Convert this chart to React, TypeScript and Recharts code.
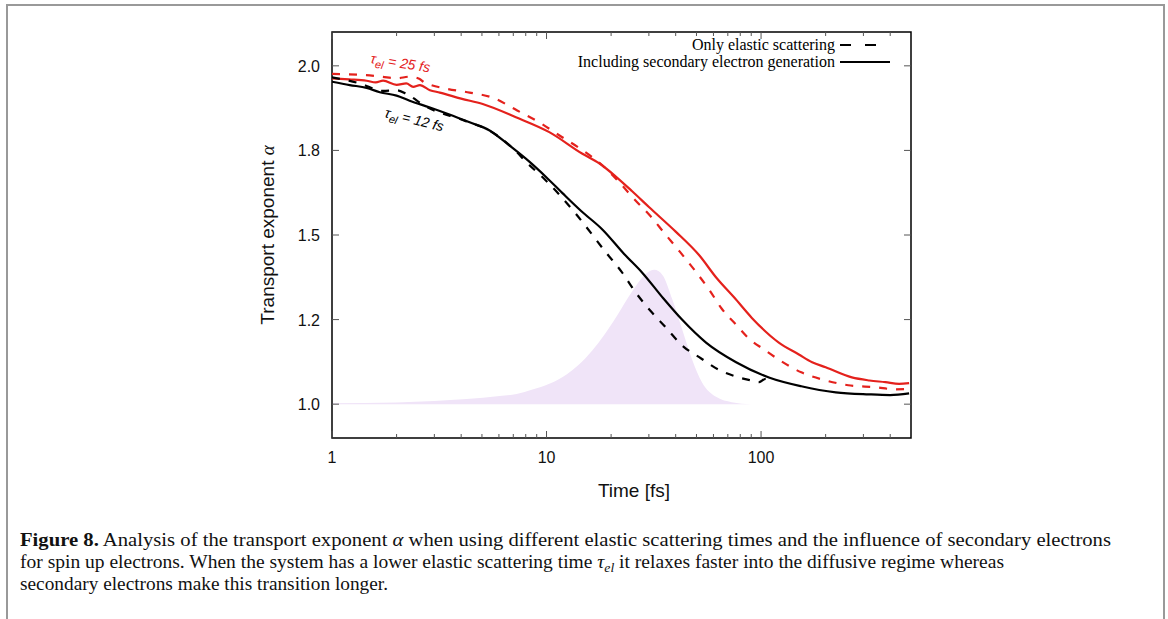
import React from "react";
import { ComposedChart, Line, Area, XAxis, YAxis, ReferenceArea } from "recharts";

// time axis ticks (log scale)
const xMajor = [1, 10, 100];
const xMinor = [2, 3, 4, 5, 6, 7, 8, 9, 20, 30, 40, 50, 60, 70, 80, 90, 200, 300, 400];
const xTicks = [...xMajor, ...xMinor].sort((a, b) => a - b);

// gnuplot prints 1.25 / 1.75 with one decimal
const yTicks = [1.0, 1.25, 1.5, 1.75, 2.0];
const yTickLabels = ["1.0", "1.2", "1.5", "1.8", "2.0"];

// [time fs, alpha]
const inclSecondary12: [number, number][] = [
  [1, 1.953], [1.21, 1.943], [1.45, 1.935], [1.67, 1.922], [2.0, 1.912], [2.3, 1.897],
  [2.86, 1.877], [3.5, 1.857], [4.38, 1.833], [5.43, 1.809], [6.7, 1.765], [8.34, 1.716],
  [10, 1.67], [11.9, 1.623], [14.5, 1.571], [18.3, 1.515], [23, 1.444], [28, 1.388],
  [35, 1.313], [42.8, 1.25], [55.4, 1.182], [76.5, 1.124], [108.8, 1.079], [154, 1.053],
  [223, 1.035], [317, 1.029], [400, 1.027], [490, 1.032],
];

const elastic12: [number, number][] = [
  [1, 1.966], [1.35, 1.948], [1.73, 1.926], [2.0, 1.928], [2.25, 1.915], [2.7, 1.882],
  [4.15, 1.838], [5.4, 1.809], [6.9, 1.759], [8.15, 1.712], [9.9, 1.662], [13.6, 1.565],
  [19, 1.447], [22.4, 1.391], [25.9, 1.332], [30.5, 1.276], [36.3, 1.224], [42.8, 1.174],
  [52.6, 1.135], [63, 1.103], [76, 1.082], [90, 1.07], [98, 1.065], [105, 1.075], [115, 1.07],
];

const inclSecondary25: [number, number][] = [
  [1, 1.963], [1.2, 1.96], [1.45, 1.956], [1.6, 1.951], [1.73, 1.956], [2.0, 1.944],
  [2.22, 1.948], [2.39, 1.938], [2.57, 1.943], [2.86, 1.928], [3.18, 1.921], [4, 1.903],
  [5.04, 1.887], [7.2, 1.848], [10.3, 1.804], [14.7, 1.74], [17.6, 1.712], [21.1, 1.672],
  [25, 1.63], [30.1, 1.582], [40, 1.51], [51.5, 1.44], [62.2, 1.372], [75, 1.315],
  [90.6, 1.255], [121, 1.182], [150, 1.147], [173, 1.124], [200, 1.109], [265, 1.079],
  [320, 1.07], [380, 1.065], [440, 1.06], [490, 1.062],
];

const elastic25: [number, number][] = [
  [1, 1.976], [1.39, 1.973], [1.7, 1.968], [2.0, 1.963], [2.3, 1.968], [2.55, 1.962],
  [2.7, 1.95], [2.9, 1.943], [3.43, 1.932], [4.38, 1.921], [5.6, 1.906], [7.3, 1.868],
  [9.3, 1.832], [11.5, 1.794], [14.3, 1.756], [18.2, 1.706], [21.6, 1.659], [25.4, 1.609],
  [30.5, 1.556], [35.7, 1.503], [41.9, 1.45], [49.3, 1.394], [57.5, 1.337], [65.6, 1.282],
  [76.5, 1.235], [87.8, 1.194], [103, 1.162], [125, 1.126], [154, 1.094], [198, 1.071],
  [255, 1.056], [343, 1.05], [420, 1.044], [490, 1.045],
];

// shaded distribution, drawn from alpha = 1
const shadePeak: [number, number][] = [
  [1, 1.003], [2, 1.005], [3, 1.009], [4.24, 1.015], [6.04, 1.024], [7.25, 1.03],
  [8.6, 1.043], [10.3, 1.06], [12.4, 1.088], [14, 1.114], [16.3, 1.158], [18.5, 1.203],
  [21.2, 1.259], [25.2, 1.335], [29.2, 1.386], [31.8, 1.397], [34.7, 1.382], [38.6, 1.309],
  [42.9, 1.221], [47.7, 1.132], [53, 1.065], [62, 1.021], [73, 1.006], [90, 1.0],
];

const toRows = (pts: [number, number][]) => pts.map(([t, a]) => ({ t, a }));

const RED = "#e4211c";
const SANS = "Liberation Sans, Arial, sans-serif";
const SERIF = "Liberation Serif, Times New Roman, serif";

const PLOT_LEFT = 332;
const PLOT_TOP = 32;
const PLOT_RIGHT = 911;
const PLOT_BOTTOM = 438;
const PLOT_W = PLOT_RIGHT - PLOT_LEFT;
const PLOT_H = PLOT_BOTTOM - PLOT_TOP;

function XTick(props: any) {
  const { x, y, payload } = props;
  const major = xMajor.includes(payload.value);
  const len = major ? 7 : 4;
  return (
    <g>
      <line x1={x} x2={x} y1={y} y2={y - len} stroke="#555" strokeWidth={1} />
      <line x1={x} x2={x} y1={y - PLOT_H} y2={y - PLOT_H + len} stroke="#555" strokeWidth={1} />
      {major && (
        <text x={x} y={y + 25} textAnchor="middle" fontFamily={SANS} fontSize={16} fill="#111">
          {payload.value}
        </text>
      )}
    </g>
  );
}

function YTick(props: any) {
  const { x, y, payload, index } = props;
  return (
    <g>
      <line x1={x} x2={x + 7} y1={y} y2={y} stroke="#555" strokeWidth={1} />
      <line x1={x + PLOT_W} x2={x + PLOT_W - 7} y1={y} y2={y} stroke="#555" strokeWidth={1} />
      <text x={x - 12} y={y + 6} textAnchor="end" fontFamily={SANS} fontSize={16} fill="#111">
        {yTickLabels[index]}
      </text>
    </g>
  );
}

export default function App() {
  return (
    <div style={{ position: "absolute", left: 0, top: 0, width: 1168, height: 619, background: "#fff", overflow: "hidden" }}>
      <div
        style={{
          position: "absolute",
          left: 6,
          top: 4,
          width: 1155,
          height: 640,
          borderLeft: "2px solid #999",
          borderTop: "2px solid #999",
          borderRight: "2px solid #999",
        }}
      />
      <div style={{ position: "absolute", left: 0, top: 0 }}>
        <ComposedChart
          width={1168}
          height={619}
          margin={{ top: PLOT_TOP, right: 1168 - PLOT_RIGHT, bottom: 619 - PLOT_BOTTOM - 40, left: PLOT_LEFT - 60 }}
        >
          <XAxis
            dataKey="t"
            type="number"
            scale="log"
            domain={[1, 500]}
            allowDataOverflow
            ticks={xTicks}
            interval={0}
            tickSize={0}
            tickMargin={0}
            tickLine={false}
            axisLine={false}
            height={40}
            tick={<XTick />}
          />
          <YAxis
            type="number"
            domain={[0.9, 2.1]}
            allowDataOverflow
            ticks={yTicks}
            interval={0}
            tickSize={0}
            tickMargin={0}
            tickLine={false}
            axisLine={false}
            width={60}
            tick={<YTick />}
          />
          <Area
            data={toRows(shadePeak)}
            dataKey="a"
            type="monotone"
            baseValue={1}
            fill="#f0e4f8"
            fillOpacity={1}
            stroke="none"
            isAnimationActive={false}
          />
          <Line data={toRows(elastic25)} dataKey="a" type="monotone" stroke={RED} strokeWidth={2.2} strokeDasharray="8 9" dot={false} isAnimationActive={false} />
          <Line data={toRows(inclSecondary25)} dataKey="a" type="monotone" stroke={RED} strokeWidth={2.2} dot={false} isAnimationActive={false} />
          <Line data={toRows(elastic12)} dataKey="a" type="monotone" stroke="#000" strokeWidth={2.2} strokeDasharray="8 9" dot={false} isAnimationActive={false} />
          <Line data={toRows(inclSecondary12)} dataKey="a" type="monotone" stroke="#000" strokeWidth={2.2} dot={false} isAnimationActive={false} />
          <ReferenceArea x1={1} x2={500} y1={0.9} y2={2.1} fill="none" fillOpacity={0} stroke="#000" strokeWidth={1.5} />
        </ComposedChart>
      </div>
      <svg
        width={1168}
        height={619}
        style={{ position: "absolute", left: 0, top: 0, pointerEvents: "none" }}
      >
        {/* legend */}
        <g fontFamily={SERIF} fontSize={16} fill="#000">
          <text x={835} y={50} textAnchor="end">Only elastic scattering</text>
          <line x1={840} x2={890} y1={45} y2={45} stroke="#000" strokeWidth={2.2} strokeDasharray="11 14" />
          <text x={835} y={67} textAnchor="end">Including secondary electron generation</text>
          <line x1={840} x2={890} y1={62} y2={62} stroke="#000" strokeWidth={2.2} />
        </g>
        {/* curve annotations */}
        <text transform="translate(370,63) rotate(9)" fontFamily={SANS} fontSize={14} fontStyle="italic" fill={RED}>
          τ<tspan dy={4} fontSize={11}>el</tspan>
          <tspan dy={-4}> = 25 fs</tspan>
        </text>
        <text transform="translate(384,117) rotate(14)" fontFamily={SANS} fontSize={14} fontStyle="italic" fill="#000">
          τ<tspan dy={4} fontSize={11}>el</tspan>
          <tspan dy={-4}> = 12 fs</tspan>
        </text>
        {/* axis titles */}
        <text x={634} y={497} textAnchor="middle" fontFamily={SANS} fontSize={19} fill="#111">
          Time [fs]
        </text>
        <text transform="translate(274,235) rotate(-90)" textAnchor="middle" fontFamily={SANS} fontSize={19} fill="#111">
          Transport exponent <tspan fontFamily={SERIF} fontStyle="italic">α</tspan>
        </text>
        {/* caption */}
        <g fontFamily={SERIF} fontSize={18.5} fill="#111">
          <text x={20} y={546} textLength={1091} lengthAdjust="spacingAndGlyphs">
            <tspan fontWeight={700}>Figure 8.</tspan> Analysis of the transport exponent{" "}
            <tspan fontStyle="italic">α</tspan> when using different elastic scattering times and the influence of secondary electrons
          </text>
          <text x={20} y={568} textLength={984} lengthAdjust="spacingAndGlyphs">
            for spin up electrons. When the system has a lower elastic scattering time{" "}
            <tspan fontStyle="italic">τ</tspan>
            <tspan fontStyle="italic" fontSize={13} dy={4}>el</tspan>
            <tspan dy={-4}> it relaxes faster into the diffusive regime whereas</tspan>
          </text>
          <text x={20} y={590} textLength={368} lengthAdjust="spacingAndGlyphs">
            secondary electrons make this transition longer.
          </text>
        </g>
      </svg>
    </div>
  );
}
